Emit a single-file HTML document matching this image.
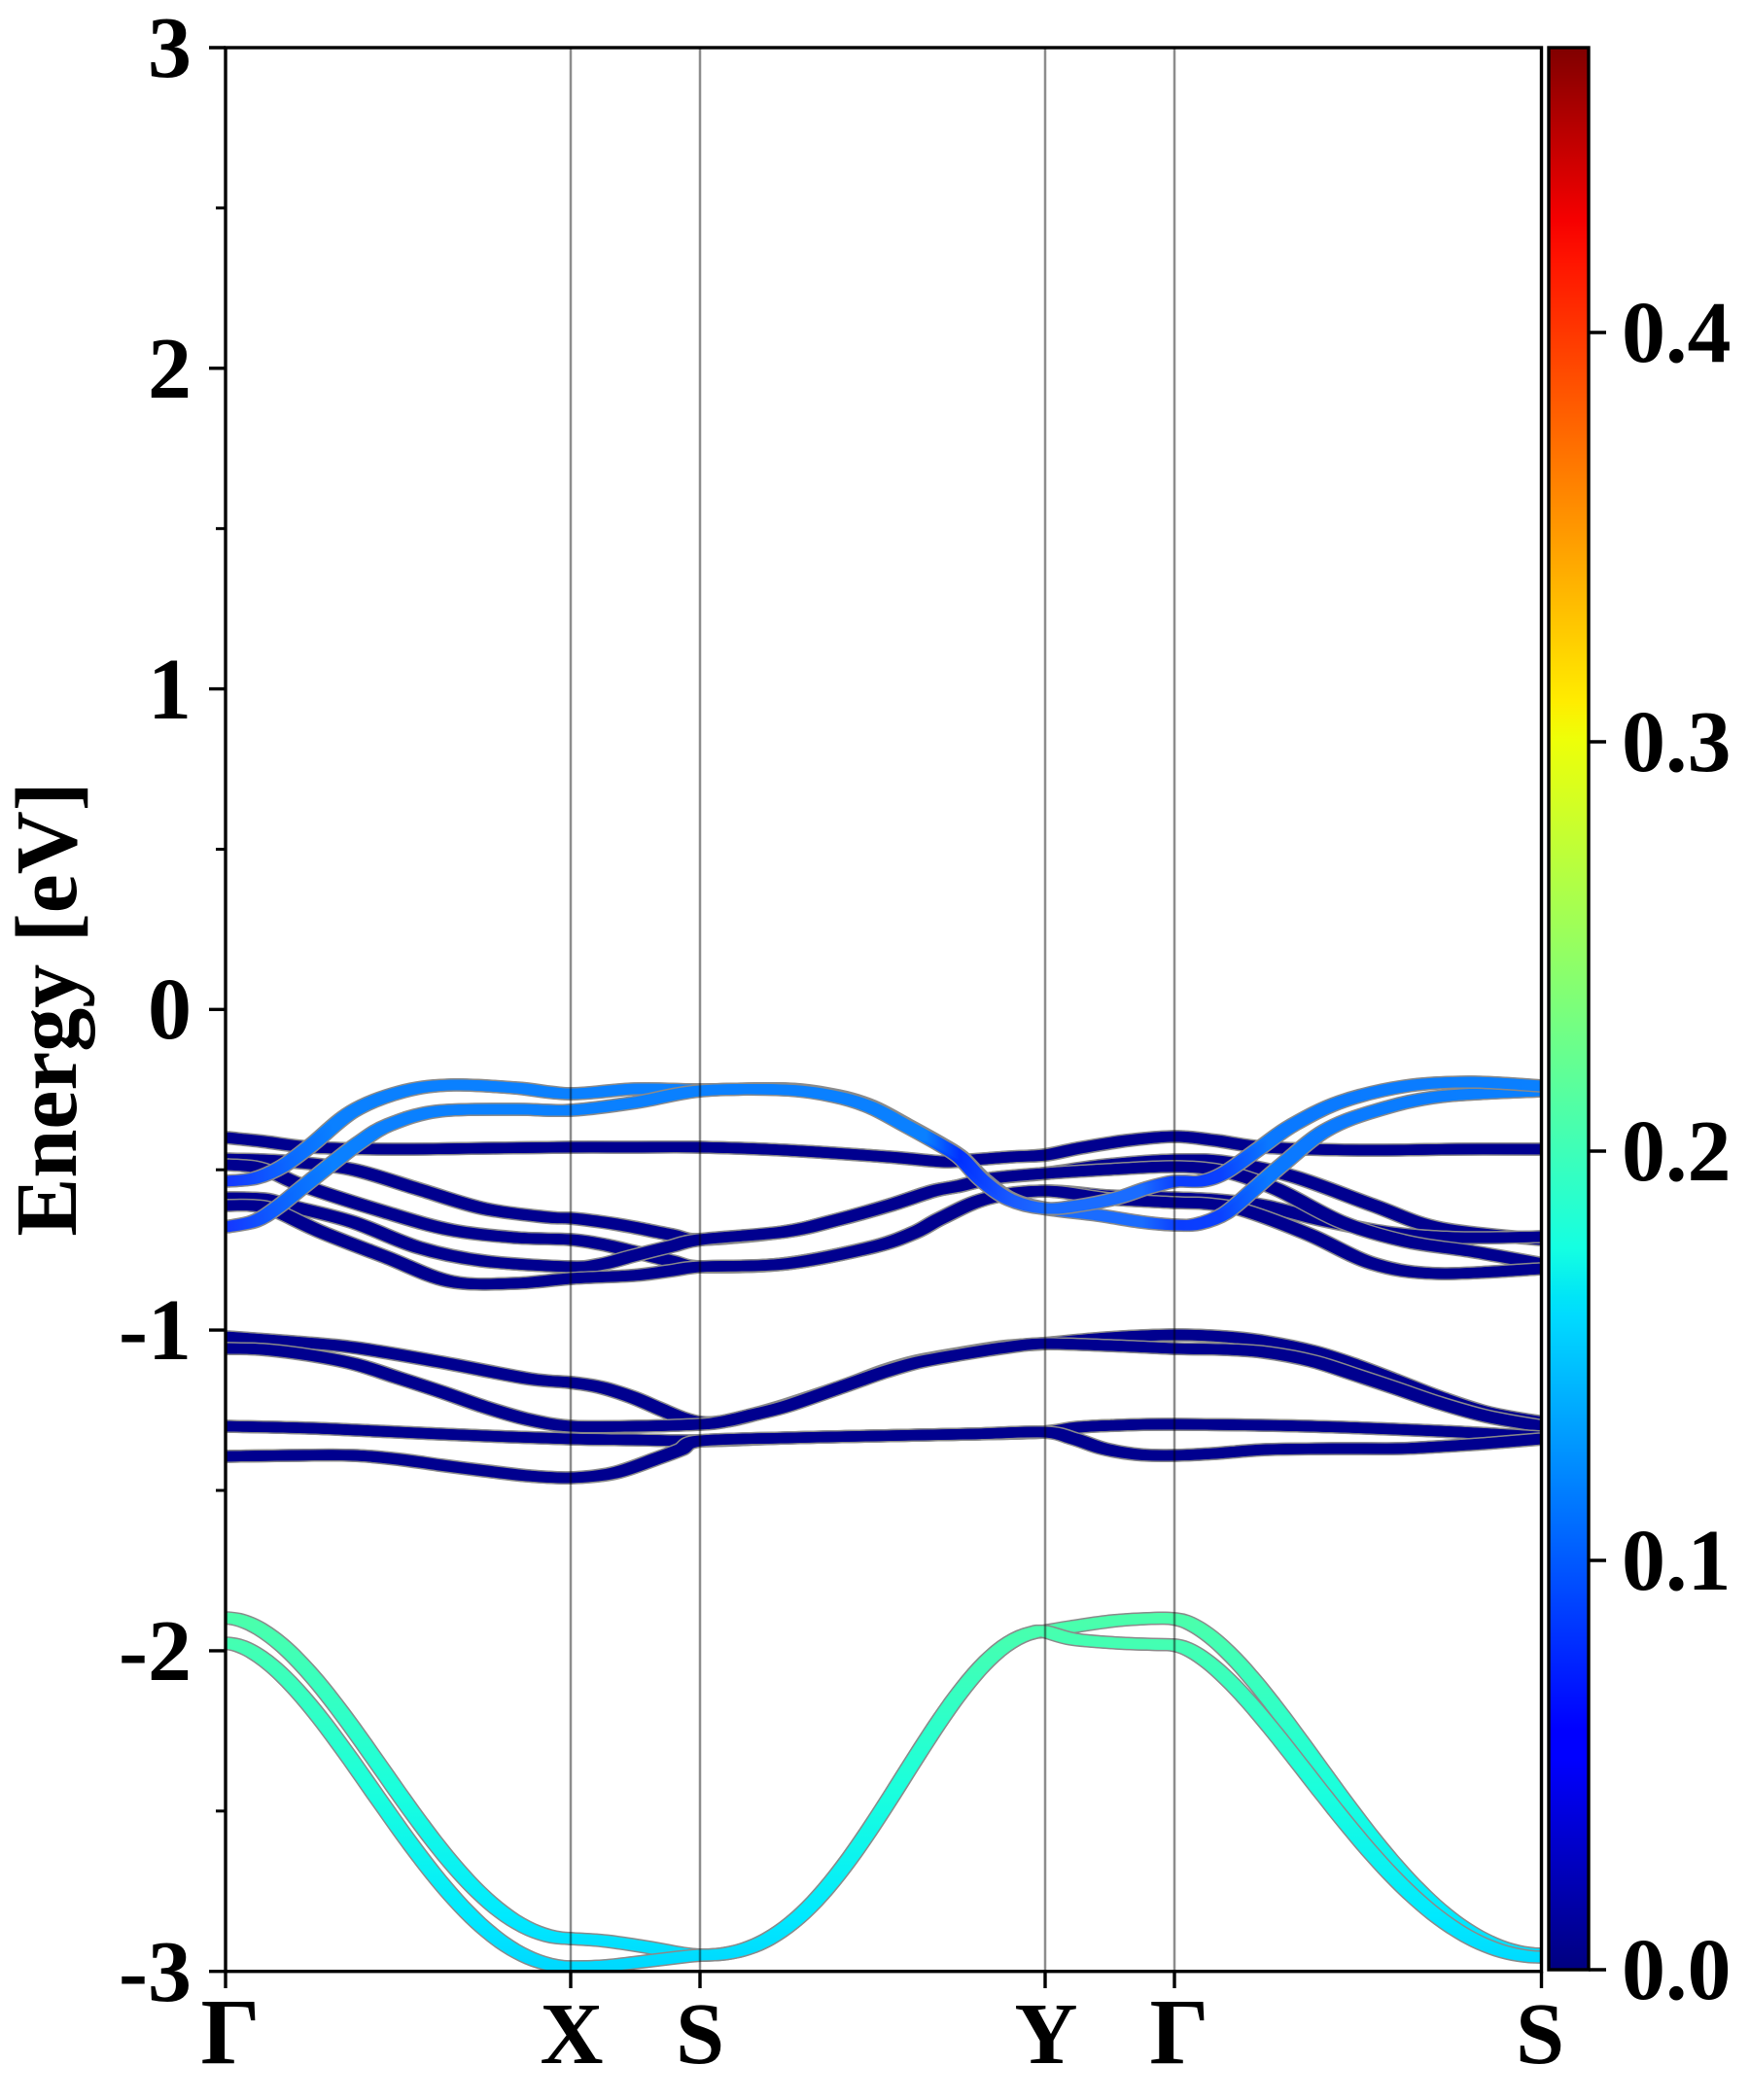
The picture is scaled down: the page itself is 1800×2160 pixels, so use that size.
<!DOCTYPE html>
<html>
<head>
<meta charset="utf-8">
<style>
html,body{margin:0;padding:0;background:#fff;}
svg{display:block;}
text{font-family:"Liberation Serif","Times New Roman",serif;font-weight:bold;fill:#000;}
</style>
</head>
<body>
<svg id="s" width="1800" height="2160" viewBox="0 0 1800 2160" xmlns="http://www.w3.org/2000/svg" font-family="Liberation Serif, Times New Roman, serif" font-weight="bold">
<defs>
  <clipPath id="pc"><rect x="232" y="49" width="1354" height="1979"/></clipPath>
  <linearGradient id="jet" x1="0" y1="1" x2="0" y2="0">
    <stop offset="0" stop-color="#000080"/>
    <stop offset="0.11" stop-color="#0000ff"/>
    <stop offset="0.125" stop-color="#0000ff"/>
    <stop offset="0.34" stop-color="#00dbff"/>
    <stop offset="0.35" stop-color="#00e5f7"/>
    <stop offset="0.375" stop-color="#14ffe2"/>
    <stop offset="0.64" stop-color="#eeff08"/>
    <stop offset="0.66" stop-color="#ffec00"/>
    <stop offset="0.89" stop-color="#ff1300"/>
    <stop offset="0.91" stop-color="#f60000"/>
    <stop offset="1" stop-color="#800000"/>
  </linearGradient>
  <linearGradient id="cy" gradientUnits="userSpaceOnUse" x1="0" y1="1660" x2="0" y2="2025">
    <stop offset="0" stop-color="#4cffaa"/>
    <stop offset="0.5" stop-color="#1affdd"/>
    <stop offset="0.85" stop-color="#00eaff"/>
    <stop offset="1" stop-color="#00d8ff"/>
  </linearGradient>
  <linearGradient id="lb" gradientUnits="userSpaceOnUse" x1="232" y1="0" x2="1586" y2="0">
    <stop offset="0" stop-color="#1438ff"/>
    <stop offset="0.05" stop-color="#0a6cff"/>
    <stop offset="0.08" stop-color="#0a80ff"/>
    <stop offset="0.53" stop-color="#0a80ff"/>
    <stop offset="0.556" stop-color="#0030ff"/>
    <stop offset="0.597" stop-color="#1a5cff"/>
    <stop offset="0.623" stop-color="#1a6cff"/>
    <stop offset="0.694" stop-color="#1a6cff"/>
    <stop offset="0.722" stop-color="#0a3cff"/>
    <stop offset="0.753" stop-color="#0a40ff"/>
    <stop offset="0.79" stop-color="#0a78ff"/>
    <stop offset="1" stop-color="#0a80ff"/>
  </linearGradient>
</defs>
<rect x="0" y="0" width="1800" height="2160" fill="#fff"/>

<g id="bands" clip-path="url(#pc)"></g>

<!-- high-symmetry vertical lines -->
<g stroke="#000" stroke-opacity="0.45" stroke-width="2.5" clip-path="url(#pc)">
  <line x1="587" y1="49" x2="587" y2="2028"/>
  <line x1="720" y1="49" x2="720" y2="2028"/>
  <line x1="1075" y1="49" x2="1075" y2="2028"/>
  <line x1="1208" y1="49" x2="1208" y2="2028"/>
</g>

<!-- spines -->
<rect x="232" y="49" width="1353.5" height="1978.7" fill="none" stroke="#000" stroke-width="3.4"/>

<!-- y major ticks -->
<g stroke="#000" stroke-width="3.4">
  <line x1="215" y1="49" x2="232" y2="49"/>
  <line x1="215" y1="378.8" x2="232" y2="378.8"/>
  <line x1="215" y1="708.6" x2="232" y2="708.6"/>
  <line x1="215" y1="1038.3" x2="232" y2="1038.3"/>
  <line x1="215" y1="1368.1" x2="232" y2="1368.1"/>
  <line x1="215" y1="1697.9" x2="232" y2="1697.9"/>
  <line x1="215" y1="2027.7" x2="232" y2="2027.7"/>
</g>
<!-- y minor ticks -->
<g stroke="#000" stroke-width="3">
  <line x1="222" y1="213.9" x2="232" y2="213.9"/>
  <line x1="222" y1="543.7" x2="232" y2="543.7"/>
  <line x1="222" y1="873.5" x2="232" y2="873.5"/>
  <line x1="222" y1="1203.2" x2="232" y2="1203.2"/>
  <line x1="222" y1="1533.0" x2="232" y2="1533.0"/>
  <line x1="222" y1="1862.8" x2="232" y2="1862.8"/>
</g>
<!-- x ticks -->
<g stroke="#000" stroke-width="3.4">
  <line x1="232" y1="2028" x2="232" y2="2045"/>
  <line x1="587" y1="2028" x2="587" y2="2045"/>
  <line x1="720" y1="2028" x2="720" y2="2045"/>
  <line x1="1075" y1="2028" x2="1075" y2="2045"/>
  <line x1="1208" y1="2028" x2="1208" y2="2045"/>
  <line x1="1585.5" y1="2028" x2="1585.5" y2="2045"/>
</g>

<!-- y tick labels -->
<g font-size="90" text-anchor="end">
  <text x="197" y="79">3</text>
  <text x="197" y="409">2</text>
  <text x="197" y="739">1</text>
  <text x="197" y="1068">0</text>
  <text x="197" y="1398">-1</text>
  <text x="197" y="1728">-2</text>
  <text x="197" y="2058">-3</text>
</g>

<!-- y label -->
<text transform="translate(78,1038) rotate(-90)" text-anchor="middle" font-size="90">Energy [eV]</text>

<!-- x tick labels -->
<g font-size="90" text-anchor="middle">
  <text x="237" y="2122" font-size="96">Γ</text>
  <text x="588" y="2122">X</text>
  <text x="720" y="2122">S</text>
  <text x="1076" y="2122">Y</text>
  <text x="1213" y="2122" font-size="96">Γ</text>
  <text x="1584" y="2122">S</text>
</g>

<!-- colorbar -->
<rect x="1593" y="49" width="41" height="1977" fill="url(#jet)" stroke="#000" stroke-width="3.4"/>
<g stroke="#000" stroke-width="3.4">
  <line x1="1634" y1="2026" x2="1652" y2="2026"/>
  <line x1="1634" y1="1605" x2="1652" y2="1605"/>
  <line x1="1634" y1="1184" x2="1652" y2="1184"/>
  <line x1="1634" y1="763" x2="1652" y2="763"/>
  <line x1="1634" y1="342" x2="1652" y2="342"/>
</g>
<g font-size="90" text-anchor="start">
  <text x="1668" y="2056">0.0</text>
  <text x="1668" y="1635">0.1</text>
  <text x="1668" y="1214">0.2</text>
  <text x="1668" y="793">0.3</text>
  <text x="1668" y="372">0.4</text>
</g>
</svg>

<script>
(function(){
  var NS = "http://www.w3.org/2000/svg";
  function cr(p){
    var d = "M" + p[0][0].toFixed(1) + "," + p[0][1].toFixed(1);
    for (var i = 0; i < p.length - 1; i++){
      var p0 = p[i-1] || p[i], p1 = p[i], p2 = p[i+1], p3 = p[i+2] || p[i+1];
      var c1x = p1[0] + (p2[0]-p0[0])/6, c1y = p1[1] + (p2[1]-p0[1])/6;
      var c2x = p2[0] - (p3[0]-p1[0])/6, c2y = p2[1] - (p3[1]-p1[1])/6;
      d += " C" + c1x.toFixed(1) + "," + c1y.toFixed(1) + " " + c2x.toFixed(1) + "," + c2y.toFixed(1) + " " + p2[0].toFixed(1) + "," + p2[1].toFixed(1);
    }
    return d;
  }
  // smooth cosine-shaped segment (zero slope at both ends), excluding first point
  function seg(x0, x1, y0, y1, pw, n){
    var out = [];
    for (var i = 1; i <= n; i++){
      var t = i / n;
      var f = (1 - Math.cos(Math.PI * Math.pow(t, pw))) / 2;
      out.push([x0 + (x1 - x0) * t, y0 + (y1 - y0) * f]);
    }
    return out;
  }
  var g = document.getElementById("bands");
  var OFFS = [-3,0,3];
  function mk(d, col, w, off){
    var a = document.createElementNS(NS, "path");
    a.setAttribute("d", d); a.setAttribute("fill", "none");
    a.setAttribute("stroke", col); a.setAttribute("stroke-width", w);
    a.setAttribute("stroke-linejoin", "round");
    a.setAttribute("stroke-linecap", "round");
    if (off) a.setAttribute("transform", "translate(" + off + ",0)");
    return a;
  }
  function band(pts, col){
    var d = cr(pts);
    var bg = document.createElementNS(NS, "g");
    for (var i = 0; i < OFFS.length; i++) bg.appendChild(mk(d, "#8a8a8a", 13.5, OFFS[i]));
    for (var j = 0; j < OFFS.length; j++) bg.appendChild(mk(d, col, 10.5, OFFS[j]));
    g.appendChild(bg);
  }
  var DK = "#00008f";

  // cyan bands (smooth generated)
  var SY = seg(720, 1074, 2011, 1678, 1.2, 30);
  var c1 = [[232,1664]].concat(seg(232, 587, 1664, 1994, 0.92, 30))
    .concat([[623,1996.5],[667,2003],[700,2009],[720,2011]])
    .concat(SY)
    .concat([[1104,1673],[1147,1667],[1190,1664.5],[1207,1665]])
    .concat(seg(1207, 1586, 1665, 2010, 0.83, 34));
  var c2 = [[232,1690]].concat(seg(232, 587, 1690, 2023, 0.88, 30))
    .concat([[623,2022],[667,2017],[700,2013],[720,2011]])
    .concat(SY)
    .concat([[1104,1686],[1150,1690],[1190,1691.5],[1207,1692]])
    .concat(seg(1207, 1586, 1692, 2013, 0.8, 34));
  band(c1, "url(#cy)");
  band(c2, "url(#cy)");

  // lower dark group
  band([[232,1375],[300,1380],[364,1386],[453,1401],[543,1418],[587,1422],[618,1427],[650,1437],[676,1448],[700,1458],[720,1463],[745,1462],[775,1455],[810,1445],[870,1425],[910,1410],[945,1400],[989,1392],[1034,1385],[1074,1382],[1140,1376],[1207,1373],[1260,1375],[1302,1380],[1350,1390],[1391,1403],[1436,1420],[1480,1437],[1530,1453],[1586,1463]], DK);
  band([[232,1387],[270,1388],[319,1394],[365,1403],[409,1417],[455,1432],[498,1447],[543,1460],[587,1467],[654,1467],[720,1465],[745,1462],[775,1455],[810,1446],[870,1425],[910,1411],[945,1401],[989,1393],[1034,1386],[1074,1382],[1140,1384],[1207,1387],[1260,1388],[1302,1391],[1350,1400],[1391,1413],[1436,1428],[1480,1443],[1530,1457],[1586,1467]], DK);
  band([[232,1467],[320,1469],[409,1473],[500,1477],[587,1480],[654,1481],[720,1482],[810,1479],[900,1477],[1000,1475],[1074,1473],[1110,1468],[1150,1466],[1207,1465],[1346,1467],[1480,1472],[1586,1478]], DK);
  band([[232,1498],[300,1497],[364,1497],[410,1501],[453,1507],[500,1513],[543,1518],[587,1520],[632,1515],[676,1500],[700,1491],[720,1482],[810,1479],[900,1477],[1000,1475],[1074,1473],[1105,1480],[1135,1490],[1170,1496],[1207,1497],[1250,1495],[1302,1491],[1370,1490],[1436,1490],[1480,1488],[1525,1485],[1586,1480]], DK);

  // upper cluster dark bands
  band([[232,1170],[270,1174],[320,1180],[400,1182],[500,1181],[587,1180],[650,1180],[720,1180],[807,1183],[914,1190],[971,1195],[1000,1193],[1040,1190],[1075,1188],[1110,1181],[1160,1173],[1209,1169],[1250,1173],[1300,1180],[1400,1183],[1500,1182],[1586,1182]], DK);
  band([[232,1192],[270,1193],[300,1195],[363,1203],[430,1223],[497,1243],[563,1252],[587,1253],[620,1257],[650,1262],[690,1270],[720,1275],[807,1267],[860,1255],[914,1240],[960,1225],[986,1220],[1021,1212],[1075,1207],[1140,1198],[1209,1193],[1260,1195],[1330,1210],[1413,1240],[1480,1263],[1586,1275]], DK);
  band([[232,1198],[260,1200],[283,1207],[313,1220],[397,1247],[463,1265],[530,1273],[587,1275],[620,1280],[650,1287],[690,1297],[720,1303],[807,1300],[896,1283],[940,1268],[968,1253],[1014,1233],[1075,1225],[1140,1230],[1209,1232],[1250,1234],[1300,1240],[1360,1255],[1430,1268],[1500,1273],[1586,1272]], DK);
  band([[232,1232],[270,1233],[297,1240],[363,1257],[430,1283],[497,1297],[587,1303],[620,1300],[650,1292],[690,1282],[720,1275],[807,1267],[860,1255],[914,1240],[960,1225],[986,1220],[1021,1212],[1075,1207],[1140,1203],[1209,1200],[1260,1205],[1313,1223],[1380,1257],[1447,1277],[1513,1287],[1586,1300]], DK);
  band([[232,1240],[260,1240],[283,1245],[330,1267],[397,1293],[463,1318],[530,1320],[587,1315],[650,1312],[690,1307],[720,1303],[807,1300],[896,1283],[940,1268],[968,1253],[1014,1233],[1075,1225],[1140,1233],[1209,1237],[1240,1238],[1280,1245],[1347,1270],[1413,1300],[1480,1310],[1586,1305]], DK);

  // light blue bands
  band([[232,1215],[262,1212],[290,1200],[320,1178],[363,1143],[413,1123],[463,1116],[530,1119],[587,1125],[653,1120],[720,1121],[807,1120],[860,1127],[896,1138],[932,1157],[968,1177],[988,1190],[1010,1212],[1039,1233],[1075,1243],[1130,1250],[1175,1257],[1209,1260],[1232,1259],[1260,1248],[1290,1223],[1320,1197],[1363,1163],[1413,1143],[1480,1128],[1586,1122]], "url(#lb)");
  band([[232,1262],[262,1256],[285,1242],[310,1222],[340,1198],[370,1175],[400,1157],[450,1143],[530,1141],[587,1142],[653,1134],[720,1122],[807,1121],[860,1128],[896,1139],[932,1158],[968,1178],[988,1191],[1010,1214],[1039,1234],[1075,1243],[1110,1240],[1150,1232],[1180,1222],[1209,1215],[1235,1215],[1260,1206],[1297,1180],[1330,1157],[1380,1133],[1447,1117],[1513,1113],[1586,1117]], "url(#lb)");
})();
</script>
</body>
</html>
